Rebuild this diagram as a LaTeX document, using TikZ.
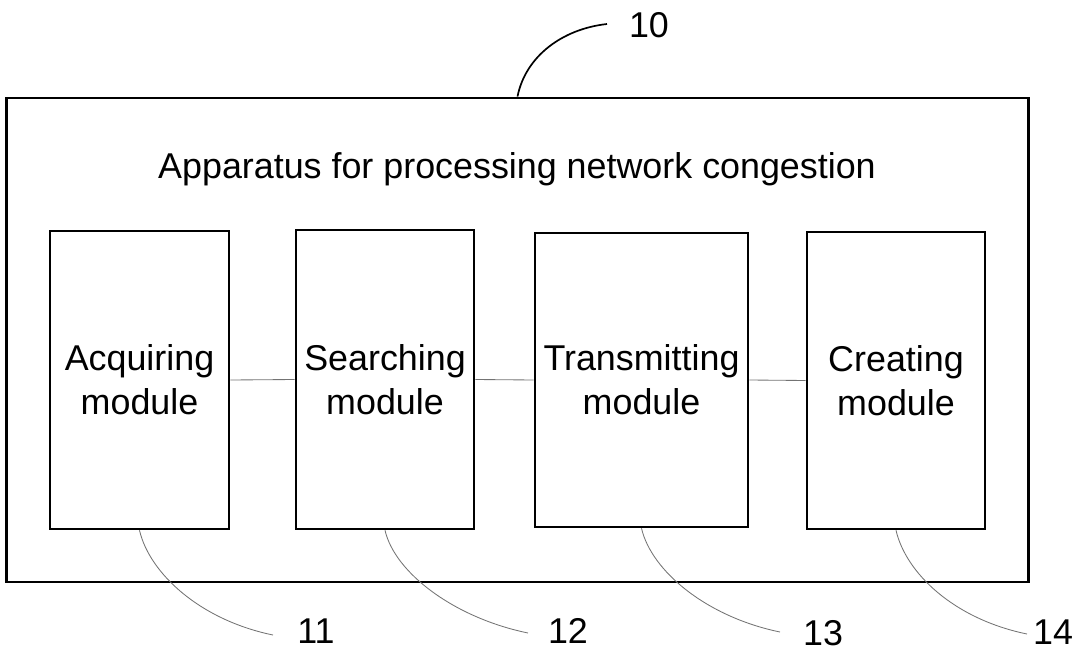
\documentclass[tikz,border=0pt]{standalone}
\usepackage{fontspec}
\setmainfont{Liberation Sans}
\begin{document}
\begin{tikzpicture}[x=0.025cm,y=-0.025cm]

%
% Styles
%
\tikzstyle{apparatus} = [draw,line width=2pt,inner sep=0pt,minimum width=25.525cm,minimum height=12.1cm]
\tikzstyle{module}    = [draw,line width=1.8pt,inner sep=0pt,align=center,font=\fontsize{25.5}{31.5}\selectfont]
\tikzstyle{link}      = [draw=black!55,line width=0.6pt]
\tikzstyle{leader}    = [draw=black!55,line width=0.6pt]
\tikzstyle{hlleader}  = [draw=black,line width=1.2pt]
\tikzstyle{refnum}    = [inner sep=1pt,font=\fontsize{25.5}{30}\selectfont]

\useasboundingbox (0,0) rectangle (1074,651);

\node[apparatus] (app)   at (517.5,340) {};
\node[refnum]    (title) at (517,169)   {Apparatus for processing network congestion};

\node[module,minimum width=4.475cm,minimum height=7.45cm]  (acq) at (139.5,380) {Acquiring\\module};
\node[module,minimum width=4.45cm, minimum height=7.475cm] (sea) at (385,379.5) {Searching\\module};
\node[module,minimum width=5.325cm,minimum height=7.35cm]  (tra) at (641.5,380) {Transmitting\\module};
\node[module,minimum width=4.45cm, minimum height=7.425cm] (cre) at (896,380.5) {Creating\\module};

\draw[link] (acq.east) -- (sea.west);
\draw[link] (sea.east) -- (tra.west);
\draw[link] (tra.east) -- (cre.west);

% reference numerals
\node[refnum] (n10) at (649,25)  {10};
\node[refnum] (n11) at (316,631) {11};
\node[refnum] (n12) at (568,631) {12};
\node[refnum] (n13) at (823,633) {13};
\node[refnum] (n14) at (1053,632) {14};

\coordinate (e10) at (607,24);
\coordinate (e11) at (273,635);
\coordinate (e12) at (528,633);
\coordinate (e13) at (780,632);
\coordinate (e14) at (1027,634);

\draw[hlleader] (app.north) .. controls +(8,-40) and +(-45,5) .. (e10);
\draw[leader] (acq.south) .. controls +(10,43) and +(-73,-15) .. (e11);
\draw[leader] (sea.south) .. controls +(10,43) and +(-73,-15) .. (e12);
\draw[leader] (tra.south) .. controls +(10,43) and +(-73,-15) .. (e13);
\draw[leader] (cre.south) .. controls +(10,43) and +(-73,-15) .. (e14);

\end{tikzpicture}
\end{document}
